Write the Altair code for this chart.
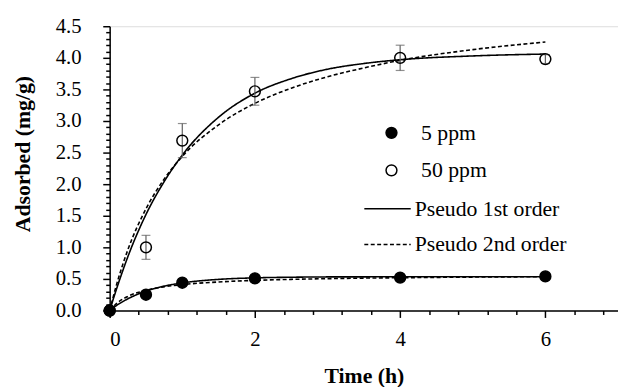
import altair as alt
import pandas as pd

# ---- measured data ----
t_obs = [0, 0.5, 1, 2, 4, 6]
q_5ppm = [0.0, 0.25, 0.44, 0.51, 0.52, 0.54]
q_50ppm = [0.0, 1.0, 2.69, 3.47, 4.0, 3.98]
err_50ppm = [0.0, 0.19, 0.27, 0.22, 0.2, 0.07]

# ---- model curves ----
t_fit = [0, 0.1, 0.25, 0.5, 0.75, 1, 1.5, 2, 2.5, 3, 3.5, 4, 5, 6]
pfo_50 = [0, 0.36, 0.85, 1.52, 2.04, 2.46, 3.06, 3.44, 3.67, 3.82, 3.91, 3.97, 4.03, 4.06]
pso_50 = [0, 0.43, 0.96, 1.61, 2.08, 2.44, 2.94, 3.28, 3.52, 3.70, 3.84, 3.96, 4.13, 4.25]
pfo_5 = [0, 0.084, 0.185, 0.307, 0.386, 0.437, 0.493, 0.517, 0.527, 0.532, 0.533, 0.534, 0.535, 0.535]
pso_5 = [0, 0.116, 0.223, 0.320, 0.375, 0.410, 0.452, 0.477, 0.493, 0.504, 0.513, 0.519, 0.529, 0.535]

series_names = ["5 ppm", "50 ppm"]
model_names = ["Pseudo 1st order", "Pseudo 2nd order"]

x_ticks = [0, 0.4, 0.8, 1.2, 1.6, 2, 2.4, 2.8, 3.2, 3.6, 4, 4.4, 4.8, 5.2, 5.6, 6, 6.4, 6.8]
y_ticks = [0, 0.1, 0.2, 0.3, 0.4, 0.5, 0.6, 0.7, 0.8, 0.9, 1, 1.1, 1.2, 1.3, 1.4, 1.5,
           1.6, 1.7, 1.8, 1.9, 2, 2.1, 2.2, 2.3, 2.4, 2.5, 2.6, 2.7, 2.8, 2.9, 3,
           3.1, 3.2, 3.3, 3.4, 3.5, 3.6, 3.7, 3.8, 3.9, 4, 4.1, 4.2, 4.3, 4.4, 4.5]

pts = pd.DataFrame({
    "t": t_obs * 2,
    "q": q_5ppm + q_50ppm,
    "series": [series_names[0]] * len(t_obs) + [series_names[1]] * len(t_obs),
    "err": [0.0] * len(t_obs) + err_50ppm,
})
pts["lo"] = pts["q"] - pts["err"]
pts["hi"] = pts["q"] + pts["err"]
errs = pts[pts["err"] > 0]

curves = pd.DataFrame({
    "t": t_fit * 4,
    "q": pfo_5 + pso_5 + pfo_50 + pso_50,
    "model": [model_names[0]] * len(t_fit) + [model_names[1]] * len(t_fit)
             + [model_names[0]] * len(t_fit) + [model_names[1]] * len(t_fit),
    "series": [series_names[0]] * (2 * len(t_fit)) + [series_names[1]] * (2 * len(t_fit)),
})

FONT = "Liberation Serif"
X_MAJOR = "abs(datum.value/2 - round(datum.value/2)) < 0.001"
Y_MAJOR = "abs(datum.value*2 - round(datum.value*2)) < 0.001"

x_axis = alt.Axis(
    values=x_ticks, tickCount=200, title="Time (h)", grid=False, labelOverlap=False,
    labelExpr=X_MAJOR + " ? format(datum.value, 'd') : ''",
    tickSize={"condition": {"test": X_MAJOR, "value": 7}, "value": 4},
    tickColor="black", tickWidth=1.5, domainColor="black", domainWidth=1.5,
    labelFont=FONT, labelFontSize=21, labelColor="black", labelPadding=11,
    titleFont=FONT, titleFontSize=22, titleFontWeight="bold", titleColor="black",
    titleY=73, titleBaseline="alphabetic",
)
y_axis = alt.Axis(
    values=y_ticks, tickCount=200, title="Adsorbed (mg/g)", grid=False, labelOverlap=False,
    labelExpr=Y_MAJOR + " ? format(datum.value, '.1f') : ''",
    tickSize={"condition": {"test": Y_MAJOR, "value": 7}, "value": 4},
    tickColor="black", tickWidth=1.5, domainColor="black", domainWidth=1.5,
    labelFont=FONT, labelFontSize=21, labelColor="black", labelPadding=22,
    titleFont=FONT, titleFontSize=22, titleFontWeight="bold", titleColor="black",
    titleX=-88, titleY=129, titleAngle=-90, titleAlign="center", titleBaseline="middle",
)

xs = alt.Scale(domain=[0, 7], nice=False, zero=True)
ys = alt.Scale(domain=[0, 4.5], nice=False)

lines = alt.Chart(curves).mark_line(color="black", strokeWidth=1.6, interpolate="monotone").encode(
    x=alt.X("t:Q", scale=xs, axis=x_axis),
    y=alt.Y("q:Q", scale=ys, axis=y_axis),
    detail="series:N",
    strokeDash=alt.StrokeDash(
        "model:N",
        scale=alt.Scale(domain=model_names, range=[[1, 0], [4, 2.5]]),
        legend=alt.Legend(
            title=None, orient="none", legendX=257, legendY=160.5, padding=0,
            symbolType="stroke", symbolSize=2209, symbolStrokeWidth=1.5,
            symbolStrokeColor="black", labelFont=FONT, labelFontSize=22,
            labelColor="black", labelOffset=3, rowPadding=-9.5,
        ),
    ),
)

err_rule = alt.Chart(errs).mark_rule(color="#606060", strokeWidth=1.2).encode(
    x="t:Q", y="lo:Q", y2="hi:Q"
)
err_lo = alt.Chart(errs).mark_tick(color="#606060", orient="horizontal", size=9, thickness=1.2).encode(
    x="t:Q", y="lo:Q"
)
err_hi = alt.Chart(errs).mark_tick(color="#606060", orient="horizontal", size=9, thickness=1.2).encode(
    x="t:Q", y="hi:Q"
)

points = alt.Chart(pts).mark_point(shape="circle", size=121, stroke="black", strokeWidth=1.5, opacity=1).encode(
    x="t:Q",
    y="q:Q",
    fill=alt.Fill(
        "series:N",
        scale=alt.Scale(domain=series_names, range=["#000000", "transparent"]),
        legend=alt.Legend(
            title=None, orient="none", legendX=274.5, legendY=97, padding=0,
            symbolType="circle", symbolSize=121, symbolStrokeWidth=1.5,
            symbolStrokeColor="black", labelFont=FONT, labelFontSize=22,
            labelColor="black", labelOffset=19, rowPadding=16,
        ),
    ),
)

chart = alt.layer(lines, err_rule, err_lo, err_hi, points).properties(
    width=515, height=288,
    autosize=alt.AutoSizeParams(type="none"),
    padding={"left": 103, "top": 16, "right": 0, "bottom": 75},
).configure_view(
    stroke="black", strokeWidth=1.5
).configure(background="white", font=FONT)

chart.save("out.html", embed_options={"renderer": "svg", "actions": False})
